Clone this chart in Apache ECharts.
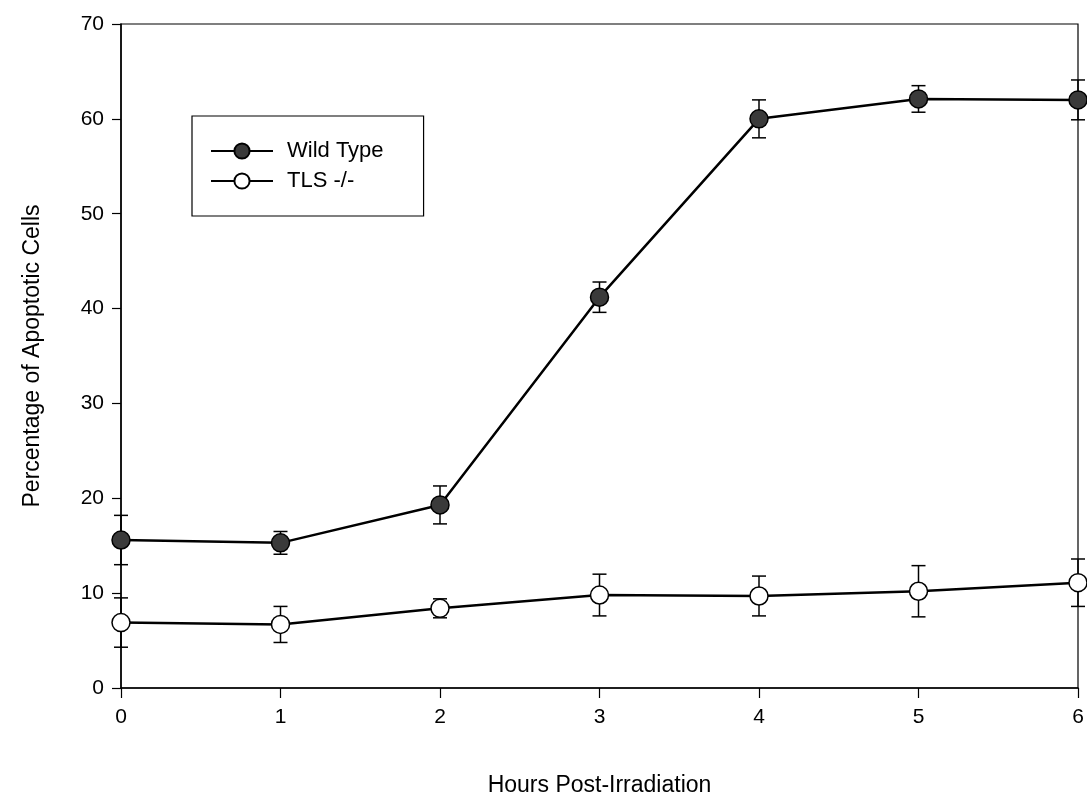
<!DOCTYPE html>
<html>
<head>
<meta charset="utf-8">
<script src="https://cdn.jsdelivr.net/npm/echarts@6/dist/echarts.min.js"></script>
<style>
  html, body { margin: 0; padding: 0; background: #fff; }
  #main { width: 1087px; height: 802px; }
</style>
</head>
<body>
<div id="main"></div>
<script>
// data
var hours = [0, 1, 2, 3, 4, 5, 6];
var wtMean = [15.6, 15.3, 19.3, 41.2, 60.0, 62.1, 62.0];
var wtErr = [2.6, 1.2, 2.0, 1.6, 2.0, 1.4, 2.1];
var tlsMean = [6.9, 6.7, 8.4, 9.8, 9.7, 10.2, 11.1];
var tlsErr = [2.6, 1.9, 1.0, 2.2, 2.1, 2.7, 2.5];

var FONT = 'Liberation Sans, Arial, sans-serif';

function pairs(mean) {
    return hours.map(function (h, i) { return [h, mean[i]]; });
}
function errRows(mean, err) {
    return hours.map(function (h, i) { return [h, mean[i] - err[i], mean[i] + err[i]]; });
}

// vertical error bar with caps
function errorBar(params, api) {
    var top = api.coord([api.value(0), api.value(2)]);
    var bot = api.coord([api.value(0), api.value(1)]);
    var w = 7;
    var st = { stroke: '#000', lineWidth: 1.5 };
    return {
        type: 'group',
        children: [
            { type: 'line', shape: { x1: top[0], y1: top[1], x2: bot[0], y2: bot[1] }, style: st },
            { type: 'line', shape: { x1: top[0] - w, y1: top[1], x2: top[0] + w, y2: top[1] }, style: st },
            { type: 'line', shape: { x1: bot[0] - w, y1: bot[1], x2: bot[0] + w, y2: bot[1] }, style: st }
        ]
    };
}

var option = {
    backgroundColor: '#fff',
    animation: false,
    grid: {
        left: 121, right: 9, top: 24, bottom: 111,
        show: true, borderColor: '#000', borderWidth: 1.2
    },
    legend: {
        orient: 'vertical',
        left: 192, top: 116,
        padding: [24, 40, 24, 18],
        itemWidth: 62, itemHeight: 19, itemGap: 8,
        borderColor: '#000', borderWidth: 1.2,
        textStyle: { fontFamily: FONT, fontSize: 22, color: '#000', padding: [0, 0, 0, 9] },
        data: ['Wild Type', 'TLS -/-']
    },
    xAxis: {
        type: 'value', min: 0, max: 6, interval: 1,
        name: 'Hours Post-Irradiation', nameLocation: 'middle', nameGap: 86,
        nameTextStyle: { fontFamily: FONT, fontSize: 23, color: '#000' },
        axisLine: { lineStyle: { color: '#000', width: 1.5 } },
        axisTick: { inside: false, length: 10, lineStyle: { color: '#000', width: 1.2 } },
        axisLabel: { margin: 19, fontFamily: FONT, fontSize: 21, color: '#000' },
        splitLine: { show: false }
    },
    yAxis: {
        type: 'value', min: 0, max: 70, interval: 10,
        name: 'Percentage of Apoptotic Cells', nameLocation: 'middle', nameGap: 77,
        nameTextStyle: { fontFamily: FONT, fontSize: 23, color: '#000' },
        axisLine: { show: true, lineStyle: { color: '#000', width: 1.5 } },
        axisTick: { show: true, length: 9, lineStyle: { color: '#000', width: 1.2 } },
        axisLabel: { margin: 17, fontFamily: FONT, fontSize: 21, color: '#000' },
        splitLine: { show: false }
    },
    series: [
        {
            type: 'custom', name: 'wtErr', z: 1, silent: true,
            renderItem: errorBar, data: errRows(wtMean, wtErr), clip: false
        },
        {
            type: 'custom', name: 'tlsErr', z: 1, silent: true,
            renderItem: errorBar, data: errRows(tlsMean, tlsErr), clip: false
        },
        {
            name: 'Wild Type', type: 'line', z: 3,
            data: pairs(wtMean),
            symbol: 'circle', symbolSize: 18,
            lineStyle: { color: '#000', width: 2.5 },
            itemStyle: { color: '#3a3a3a', borderColor: '#000', borderWidth: 1.5 }
        },
        {
            name: 'TLS -/-', type: 'line', z: 3,
            data: pairs(tlsMean),
            symbol: 'circle', symbolSize: 18,
            lineStyle: { color: '#000', width: 2.5 },
            itemStyle: { color: '#fff', borderColor: '#000', borderWidth: 1.5 }
        }
    ]
};

function loadChart(id, opt) {
    var myChart = echarts.init(document.getElementById(id));
    myChart.setOption(opt);
    return myChart;
}
loadChart('main', option);
</script>
</body>
</html>
